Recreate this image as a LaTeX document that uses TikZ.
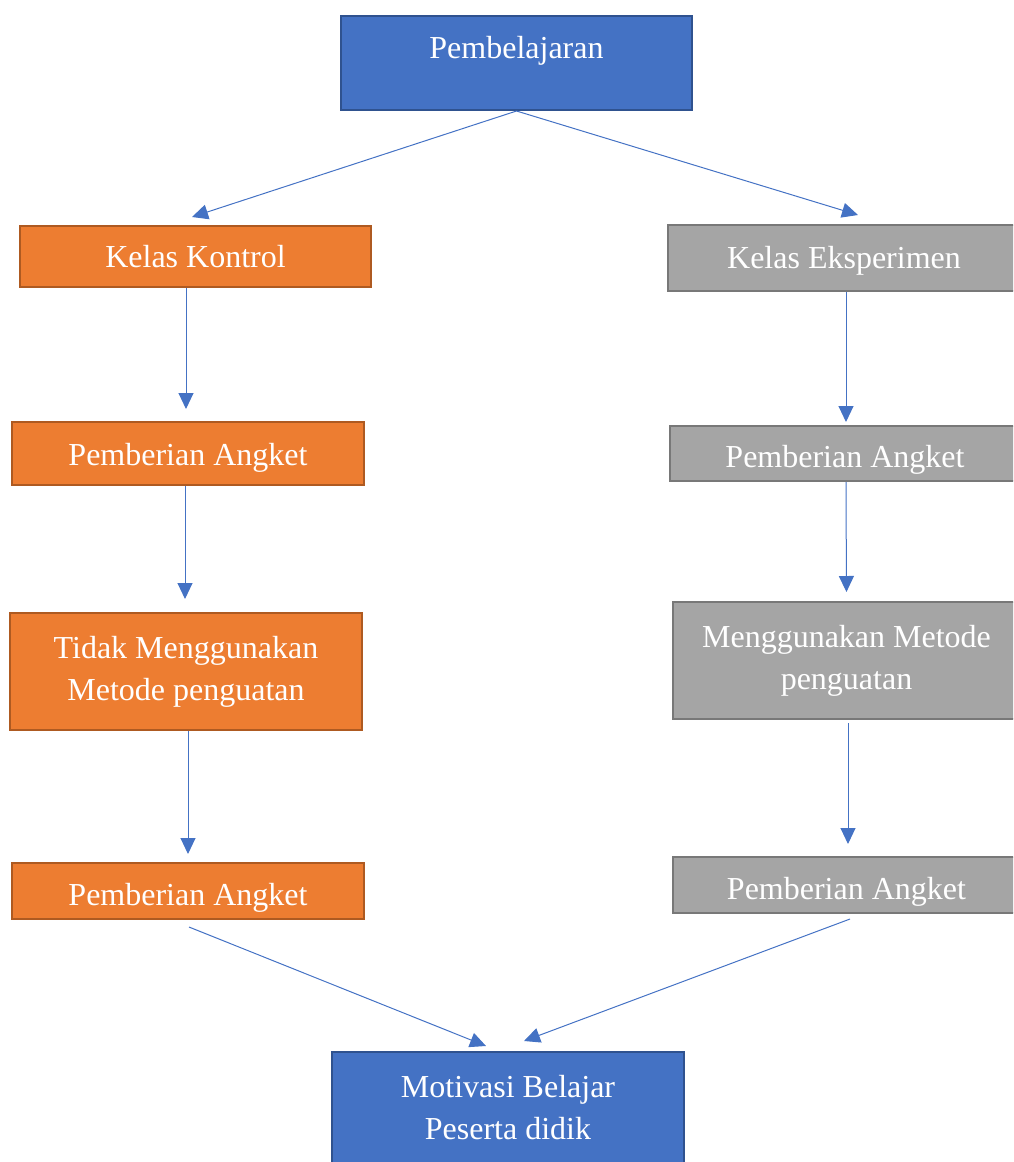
\documentclass[tikz,border=0pt]{standalone}
\usepackage{fontspec}
\setmainfont{Liberation Serif}
\usetikzlibrary{arrows.meta, positioning}

\definecolor{boxblue}{HTML}{4472C4}
\definecolor{boxblueline}{HTML}{2F528F}
\definecolor{boxorange}{HTML}{ED7D31}
\definecolor{boxorangeline}{HTML}{AE5A21}
\definecolor{boxgrey}{HTML}{A5A5A5}
\definecolor{boxgreyline}{HTML}{787878}

\begin{document}
\begin{tikzpicture}[x=1pt, y=1pt,
                box/.style={rectangle, line width=2pt, text=white, align=center, inner sep=0pt,
                            font=\fontsize{32}{42}\selectfont},
                bluebox/.style={box, draw=boxblueline, fill=boxblue},
                orangebox/.style={box, draw=boxorangeline, fill=boxorange},
                greybox/.style={box, draw=boxgreyline, fill=boxgrey},
                arr/.style={draw=boxblue, line width=1pt, -{Triangle[length=16pt, width=15pt]}}
]
    \useasboundingbox (0,0) rectangle (1013,-1162);
    \clip (0,0) rectangle (1013,-1162);

    % Top and bottom
        \node[bluebox, minimum width=351, minimum height=94, text depth=31pt] (learn) at (516.5,-63) {Pembelajaran};
        \node[bluebox, minimum width=352, minimum height=112] (motivasi) at (508,-1108) {Motivasi Belajar\\Peserta didik};

    % Left column
        \node[orangebox, minimum width=351, minimum height=61] (kontrol) at (195.5,-256.5) {Kelas Kontrol};
        \node[orangebox, minimum width=352, minimum height=63, text height=30pt] (angketL1) at (188,-453.5) {Pemberian Angket};
        \node[orangebox, minimum width=352, minimum height=117] (tanpa) at (186,-671.5) {Tidak Menggunakan\\Metode penguatan};
        \node[orangebox, minimum width=352, minimum height=56, text height=36pt] (angketL2) at (188,-891) {Pemberian Angket};

    % Right column
        \node[greybox, minimum width=352, minimum height=66, text height=28pt] (eksp) at (844,-258) {Kelas Eksperimen};
        \node[greybox, minimum width=350, minimum height=55, text height=34pt] (angketR1) at (845,-453.5) {Pemberian Angket};
        \node[greybox, minimum width=347, minimum height=117] (metode) at (846.5,-660.5) {Menggunakan Metode\\penguatan};
        \node[greybox, minimum width=347, minimum height=56, text height=36pt] (angketR2) at (846.5,-885) {Pemberian Angket};

    % Arrows
        \draw[arr] (learn.south) -- ([xshift=-3.5pt, yshift=8pt]kontrol.north);
        \draw[arr] (learn.south) -- ([xshift=14pt, yshift=9pt]eksp.north);

        \draw[arr, shorten >=12pt] ([xshift=-9.5pt]kontrol.south) -- ([xshift=-2pt]angketL1.north);
        \draw[arr, shorten >=13pt] ([xshift=-3pt]angketL1.south) -- ([xshift=-1pt]tanpa.north);
        \draw[arr, shorten >=8pt] ([xshift=2pt]tanpa.south) -- (angketL2.north);
        \draw[arr] ([xshift=1pt, yshift=-7pt]angketL2.south) -- ([xshift=-22pt, yshift=5pt]motivasi.north);

        \draw[arr, shorten >=3pt] ([xshift=2pt]eksp.south) -- ([xshift=1pt]angketR1.north);
        \draw[arr, shorten >=9pt] ([xshift=1pt]angketR1.south) -- (metode.north);
        \draw[arr, shorten <=3pt, shorten >=12pt] ([xshift=1.5pt]metode.south) -- ([xshift=1.5pt]angketR2.north);
        \draw[arr] ([xshift=3.5pt, yshift=-5pt]angketR2.south) -- ([xshift=16pt, yshift=10pt]motivasi.north);
\end{tikzpicture}
\end{document}
